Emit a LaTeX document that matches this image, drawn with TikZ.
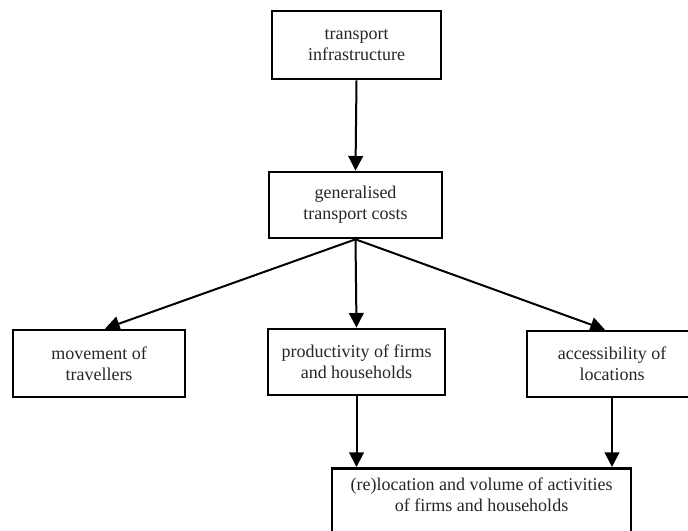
\documentclass[tikz,border=0pt]{standalone}
\usepackage{fontspec}
\setmainfont{Liberation Serif}
\usetikzlibrary{arrows.meta,calc}
\begin{document}
\begin{tikzpicture}[x=0.75pt,y=-0.75pt,
  txt/.style={align=center,font=\fontsize{13.5}{15.8}\selectfont,text=black!85},
  box/.style={txt,draw=black,line width=2pt,rectangle,inner sep=0pt},
  arr/.style={line width=1.5pt,-{Triangle[length=11pt,width=11pt]}}]
\clip (0,0) rectangle (688,531);
\fill[white] (0,0) rectangle (688,531);

% boxes
\node[box,minimum width=169*0.75pt,minimum height=68*0.75pt] (infra) at (356.5,45)
  {transport\\infrastructure};
\node[box,minimum width=173*0.75pt,minimum height=66*0.75pt] (gen) at (355.5,205)
  {generalised\\transport costs};
\node[box,minimum width=172*0.75pt,minimum height=67*0.75pt] (mov) at (99,363.5)
  {movement of\\travellers};
\node[box,minimum width=177*0.75pt,minimum height=66*0.75pt] (prod) at (356.5,362)
  {productivity of firms\\and households};
\node[box,minimum width=170*0.75pt,minimum height=66*0.75pt] (acc) at (612,364)
  {accessibility of\\locations};
\node[box,minimum width=299*0.75pt,minimum height=100*0.75pt,anchor=north] (act) at (481.5,467) {};
\node[txt,anchor=center] (actlabel) at ($(act.north)+(0,28)$)
  {(re)location and volume of activities\\of firms and households};

% connectors
\draw[arr] (infra.south) -- (gen.north);
\draw[arr] (gen.south) -- ($(mov.north)+(6,0)$);
\draw[arr] (gen.south) -- (prod.north);
\draw[arr] (gen.south) -- ($(acc.north)+(-7,0)$);
\draw[arr] (prod.south) -- (prod.south |- act.north);
\draw[arr] (acc.south) -- (acc.south |- act.north);
\end{tikzpicture}
\end{document}
